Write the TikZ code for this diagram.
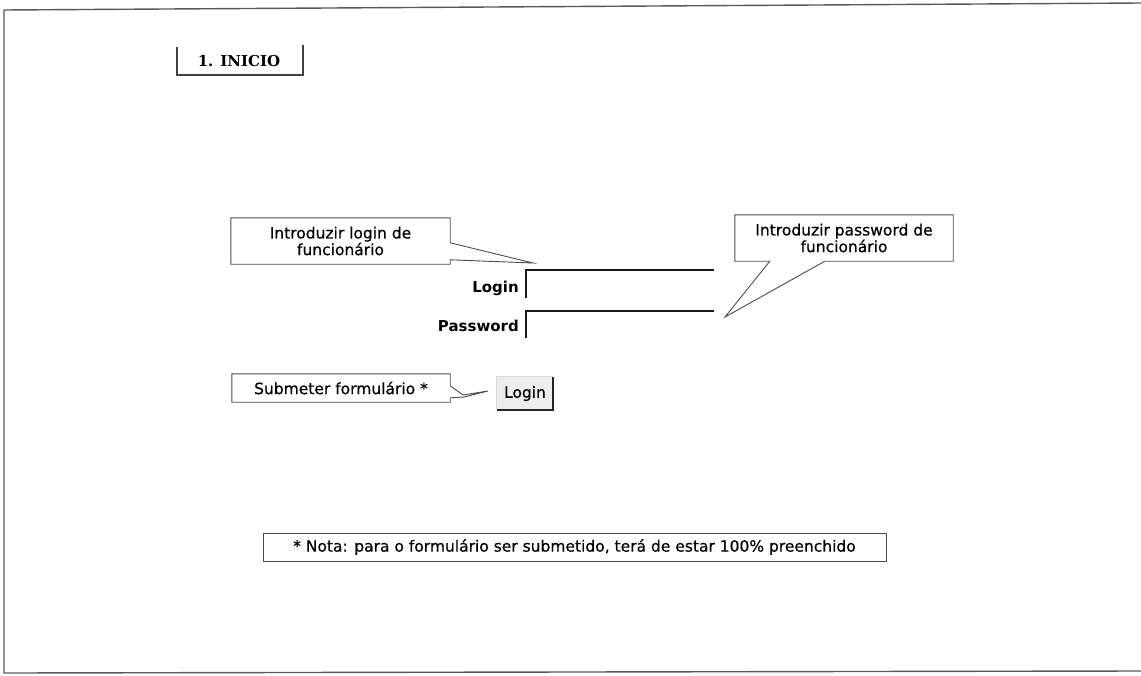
\documentclass[tikz,border=0pt]{standalone}
\usepackage{fontspec}
\setmainfont{DejaVu Sans}
\newfontfamily\headfont{DejaVu Serif}
\newfontfamily\calloutfont[FakeBold=0.5]{DejaVu Sans}
\usetikzlibrary{calc}
\tikzset{
  frameline/.style={draw=black!65, line width=1.4pt},
  calloutline/.style={draw=black!70, line width=0.9pt, line join=miter},
  calltext/.style={font=\calloutfont\fontsize{15.5}{15.5}\selectfont, align=center, inner sep=0pt},
  fieldbox/.style={draw=none, inner sep=0pt, minimum width=188pt},
  fieldedge/.style={draw=black!90, line width=1.8pt},
  fieldlabel/.style={font=\bfseries\fontsize{15}{16}\selectfont, anchor=east, inner sep=0pt},
}
\begin{document}
\begin{tikzpicture}[x=1pt,y=-1pt]
\useasboundingbox (0,0) rectangle (1141,675);

% page frame (left, top and bottom edges)
\draw[frameline] (1141,3) -- (4,10) -- (4,673) -- (1141,671);

% section heading
\node[font=\headfont\bfseries\fontsize{15}{17}\selectfont, inner sep=0pt] (inicio) at (239,61) {1. INICIO};
\draw[draw=black!75, line width=1.1pt] (177,47) -- (177,75) -- (303,75) -- (303,45);

% login form fields
\node[fieldbox, minimum height=28pt, anchor=north west] (loginfield) at (526,270) {};
\draw[fieldedge] (loginfield.south west) -- (loginfield.north west) -- (loginfield.north east);
\node[fieldlabel] (loginlbl) at (519,288) {Login};

\node[fieldbox, minimum height=27pt, anchor=north west] (passfield) at (526,311) {};
\draw[fieldedge] (passfield.south west) -- (passfield.north west) -- (passfield.north east);
\node[fieldlabel] (passlbl) at (519,326) {Password};

% submit button
\node[fill=black!7, minimum width=56pt, minimum height=33pt, inner sep=0pt,
      font=\calloutfont\fontsize{15.5}{16}\selectfont] (btn) at (525,393.5) {Login};
\draw[draw=black!85, line width=1.8pt] (btn.north east) -- (btn.south east) -- (btn.south west);
\draw[draw=black!15, line width=0.8pt] (btn.south west) -- (btn.north west) -- (btn.north east);

% callout: login
\node[calltext, minimum width=219pt, minimum height=46pt] (c1) at (340.5,241)
  {Introduzir login de\\funcionário};
\coordinate (tip1) at (533,263);
\draw[calloutline] (c1.north west) -- (c1.north east) -- ($(c1.north east)+(0,25)$)
  -- (tip1) -- ($(c1.north east)+(0,42)$) -- (c1.south east) -- (c1.south west) -- cycle;

% callout: password
\node[calltext, minimum width=218pt, minimum height=46pt] (c2) at (844,238)
  {Introduzir password de\\funcionário};
\coordinate (tip2) at (725,317);
\draw[calloutline] (c2.north west) -- (c2.north east) -- (c2.south east)
  -- ($(c2.south west)+(90,0)$) -- (tip2) -- ($(c2.south west)+(35,0)$)
  -- (c2.south west) -- cycle;

% callout: submit
\node[calltext, minimum width=218pt, minimum height=28pt] (c3) at (341,388)
  {Submeter formulário *};
\coordinate (bend3a) at (463,395);
\coordinate (bend3b) at (464,397);
\coordinate (tip3) at (488,391);
\draw[calloutline] (c3.north west) -- (c3.north east) -- ($(c3.north east)+(0,12)$)
  -- (bend3a) -- (tip3) -- (bend3b) -- ($(c3.north east)+(0,24)$)
  -- (c3.south east) -- (c3.south west) -- cycle;

% footnote
\node[calltext, anchor=west] (nota) at (293,547)
  {* Nota: para o formulário ser submetido, terá de estar 100\% preenchido};
\draw[calloutline] ($(nota.west)+(-30,-14)$) rectangle ($(nota.east)+(30,14)$);

\end{tikzpicture}
\end{document}
